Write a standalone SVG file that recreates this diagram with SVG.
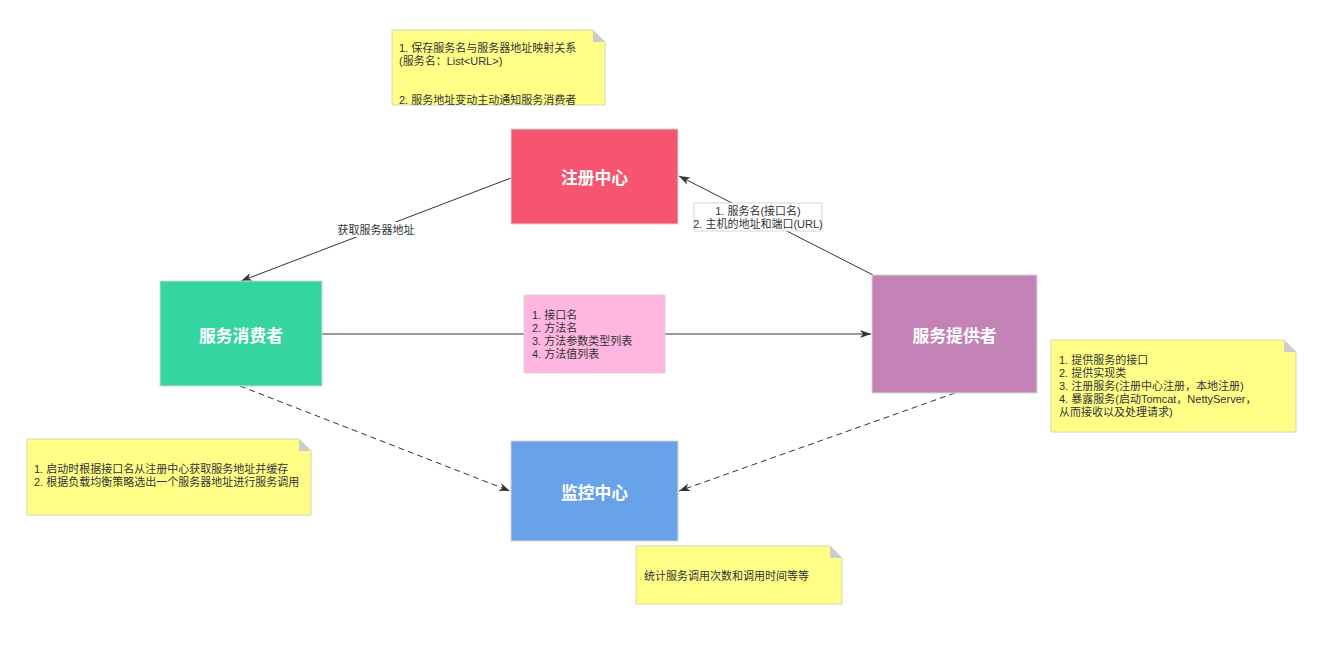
<svg xmlns="http://www.w3.org/2000/svg" width="1341" height="654" viewBox="0 0 1341 654">
<style>
.node{stroke:#d6d6d6;stroke-width:1}
.nt{font-family:"Noto Sans CJK SC","Noto Sans",sans-serif;font-size:16.8px;font-weight:bold;fill:#ffffff;text-anchor:middle;dominant-baseline:central}
.t{font-family:"Liberation Sans","Noto Sans CJK SC",sans-serif;font-size:11px;fill:#333333}
.note{fill:#ffff88;stroke:#d6d6b6;stroke-width:1}
.fold{fill:#cccccc}
.ln{fill:none;stroke:#333333;stroke-width:1}
.dash{stroke-dasharray:6 4}
</style>
<defs>
<marker id="ar" markerWidth="12" markerHeight="10" refX="11" refY="5" orient="auto" markerUnits="userSpaceOnUse">
<path d="M0,1 L11,5 L0,9 L3,5 Z" fill="#333333"/>
</marker>
</defs>
<rect width="1341" height="654" fill="#ffffff"/>
<g id="connectors">
<line class="ln" x1="511" y1="178" x2="241" y2="281" marker-end="url(#ar)"/>
<line class="ln" x1="873" y1="275" x2="679" y2="176" marker-end="url(#ar)"/>
<line class="ln" x1="322" y1="334" x2="871" y2="334" marker-end="url(#ar)"/>
<line class="ln dash" x1="240" y1="386" x2="510" y2="491" marker-end="url(#ar)"/>
<line class="ln dash" x1="955" y1="393" x2="679" y2="491" marker-end="url(#ar)"/>
<g id="label-consumer">
<rect x="335" y="222" width="82" height="15" fill="#ffffff"/>
<text class="t" x="376" y="233.5" text-anchor="middle">获取服务器地址</text>
</g>
<g id="label-provider">
<rect x="694" y="203" width="128" height="28" fill="#ffffff" stroke="#d6d6d6"/>
<text class="t" x="758" y="215" text-anchor="middle">1. 服务名(接口名)</text>
<text class="t" x="758" y="228" text-anchor="middle">2. 主机的地址和端口(URL)</text>
</g>
</g>
<g id="registry">
<rect class="node" x="511" y="129" width="167" height="95" fill="#f65470"/>
<text class="nt" x="594.5" y="177">注册中心</text>
</g>
<g id="consumer">
<rect class="node" x="160" y="281" width="162" height="105" fill="#36d4a0"/>
<text class="nt" x="241" y="335">服务消费者</text>
</g>
<g id="provider">
<rect class="node" x="872" y="275" width="165" height="118" fill="#c383b7"/>
<text class="nt" x="954.5" y="335">服务提供者</text>
</g>
<g id="monitor">
<rect class="node" x="511" y="441" width="167" height="100" fill="#68a3ea"/>
<text class="nt" x="594.5" y="492">监控中心</text>
</g>
<g id="params">
<rect x="524" y="295" width="141" height="78" fill="#ffb6e0" stroke="#d6d6d6"/>
<text class="t" x="532" y="319">1. 接口名</text>
<text class="t" x="532" y="332">2. 方法名</text>
<text class="t" x="532" y="345">3. 方法参数类型列表</text>
<text class="t" x="532" y="358">4. 方法值列表</text>
</g>
<g id="note-registry">
<path class="note" d="M392,30 H593 L605,42 V105 H392 Z"/>
<path class="fold" d="M593,30 L605,42 H593 Z"/>
<text class="t" x="399" y="52">1. 保存服务名与服务器地址映射关系</text>
<text class="t" x="399" y="65">(服务名：List&lt;URL&gt;)</text>
<text class="t" x="399" y="104">2. 服务地址变动主动通知服务消费者</text>
</g>
<g id="note-provider">
<path class="note" d="M1051,340 H1284 L1296,352 V432 H1051 Z"/>
<path class="fold" d="M1284,340 L1296,352 H1284 Z"/>
<text class="t" x="1059" y="364">1. 提供服务的接口</text>
<text class="t" x="1059" y="377">2. 提供实现类</text>
<text class="t" x="1059" y="390">3. 注册服务(注册中心注册，本地注册)</text>
<text class="t" x="1059" y="403">4. 暴露服务(启动Tomcat，NettyServer，</text>
<text class="t" x="1059" y="416">从而接收以及处理请求)</text>
</g>
<g id="note-consumer">
<path class="note" d="M27,439 H299 L311,451 V515 H27 Z"/>
<path class="fold" d="M299,439 L311,451 H299 Z"/>
<text class="t" x="34" y="473">1. 启动时根据接口名从注册中心获取服务地址并缓存</text>
<text class="t" x="34" y="486">2. 根据负载均衡策略选出一个服务器地址进行服务调用</text>
</g>
<g id="note-monitor">
<path class="note" d="M636,546 H830 L842,558 V604 H636 Z"/>
<path class="fold" d="M830,546 L842,558 H830 Z"/>
<text class="t" x="644" y="580">统计服务调用次数和调用时间等等</text>
</g>
</svg>
